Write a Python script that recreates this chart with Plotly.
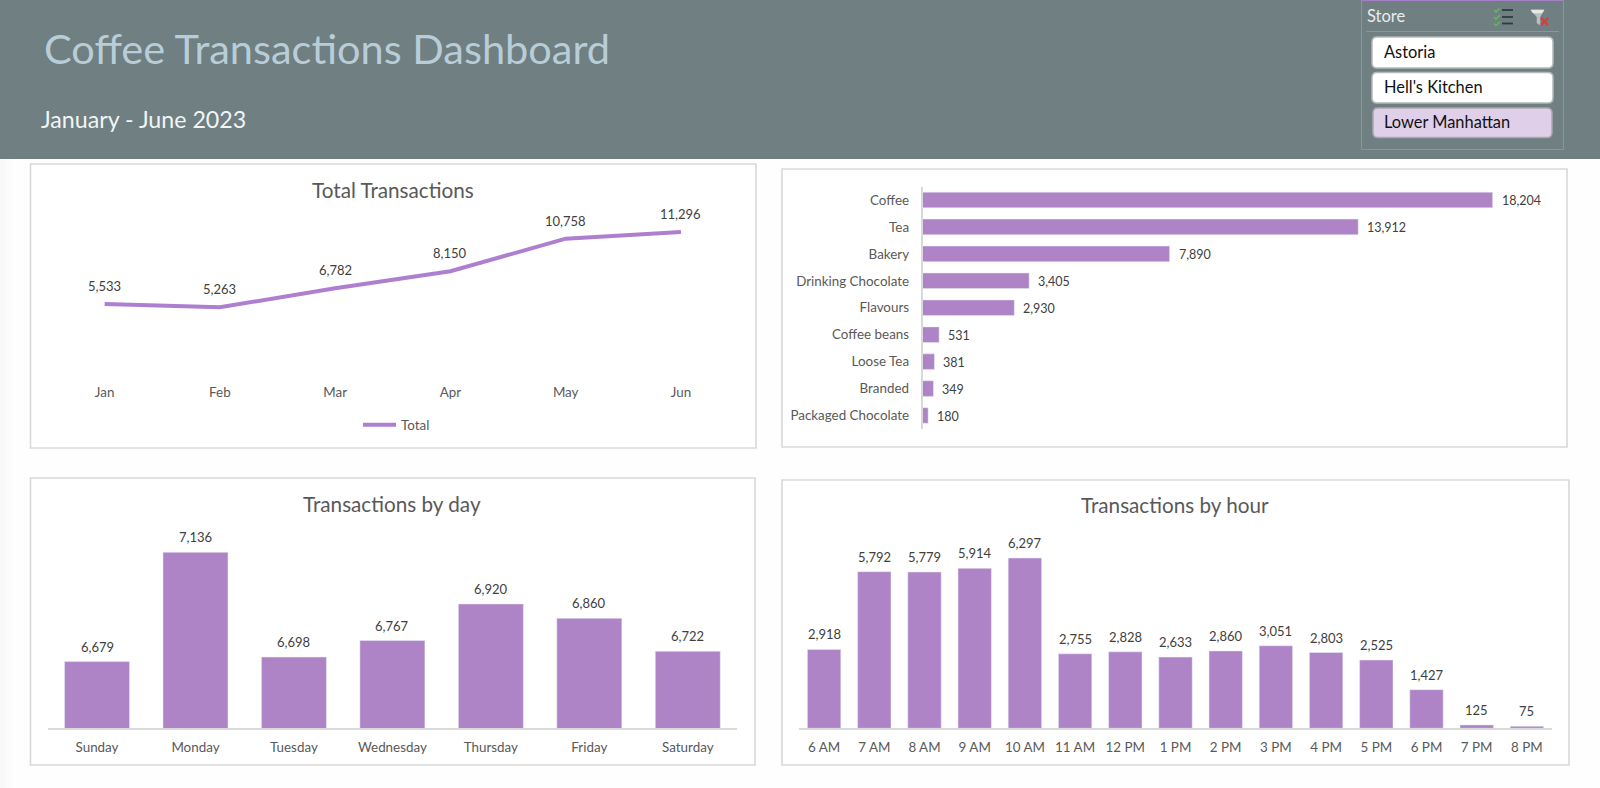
import plotly.graph_objects as go

W, H = 1600, 788
FONT = "Lato"
PURPLE = "#AE84C6"
LINE_PURPLE = "#AE7FCF"
AXIS = "#D9D9D9"
LABEL = "#404040"
TITLE = "#595959"

months = ["Jan", "Feb", "Mar", "Apr", "May", "Jun"]
month_totals = [5533, 5263, 6782, 8150, 10758, 11296]

products = ["Coffee", "Tea", "Bakery", "Drinking Chocolate", "Flavours",
            "Coffee beans", "Loose Tea", "Branded", "Packaged Chocolate"]
product_totals = [18204, 13912, 7890, 3405, 2930, 531, 381, 349, 180]

days = ["Sunday", "Monday", "Tuesday", "Wednesday", "Thursday", "Friday", "Saturday"]
day_totals = [6679, 7136, 6698, 6767, 6920, 6860, 6722]

hours = ["6 AM", "7 AM", "8 AM", "9 AM", "10 AM", "11 AM", "12 PM", "1 PM",
         "2 PM", "3 PM", "4 PM", "5 PM", "6 PM", "7 PM", "8 PM"]
hour_totals = [2918, 5792, 5779, 5914, 6297, 2755, 2828, 2633, 2860, 3051,
               2803, 2525, 1427, 125, 75]

stores = ["Astoria", "Hell's Kitchen", "Lower Manhattan"]


def px(v):
    return v / W


def py(v):
    return 1 - v / H


def rect(x0, y0, x1, y1, fill=None, line=None, lw=1, layer="below"):
    return dict(type="rect", xref="paper", yref="paper", x0=px(x0), x1=px(x1),
                y0=py(y0), y1=py(y1), fillcolor=fill or "rgba(0,0,0,0)",
                line=dict(color=line or "rgba(0,0,0,0)", width=lw if line else 0),
                layer=layer)


def rrect(x0, y0, x1, y1, r, fill, line, lw=1.5):
    X = lambda v: f"{px(v):.5f}"
    Y = lambda v: f"{py(v):.5f}"
    p = (f"M{X(x0+r)},{Y(y0)} L{X(x1-r)},{Y(y0)} Q{X(x1)},{Y(y0)} {X(x1)},{Y(y0+r)} "
         f"L{X(x1)},{Y(y1-r)} Q{X(x1)},{Y(y1)} {X(x1-r)},{Y(y1)} L{X(x0+r)},{Y(y1)} "
         f"Q{X(x0)},{Y(y1)} {X(x0)},{Y(y1-r)} L{X(x0)},{Y(y0+r)} Q{X(x0)},{Y(y0)} {X(x0+r)},{Y(y0)} Z")
    return dict(type="path", xref="paper", yref="paper", path=p, fillcolor=fill,
                line=dict(color=line, width=lw), layer="below")


def poly(points, color, width=0, fill=None):
    p = "M" + " L".join(f"{px(a):.5f},{py(b):.5f}" for a, b in points)
    if fill:
        p += " Z"
    return dict(type="path", xref="paper", yref="paper", path=p,
                fillcolor=fill or "rgba(0,0,0,0)",
                line=dict(color=color, width=width), layer="above")


def text(x, y, s, size, color, anchor="left"):
    return dict(xref="paper", yref="paper", x=px(x), y=py(y), text=s, showarrow=False,
                xanchor=anchor, yanchor="middle", align=anchor,
                font=dict(family=FONT, size=size, color=color))


def value_labels(xs, ys, xref, yref, shift, horizontal=False, size=13):
    out = []
    for a, b in zip(xs, ys):
        item = dict(xref=xref, yref=yref, x=a, y=b, text=f"{(a if horizontal else b):,}",
                    showarrow=False, font=dict(family=FONT, size=size, color=LABEL))
        if horizontal:
            item.update(xanchor="left", yanchor="middle", xshift=shift, yshift=-1)
        else:
            item.update(xanchor="center", yanchor="middle", yshift=shift)
        out.append(item)
    return out


shapes = [
    rect(0, 159, 6, H, fill="#F9F9F9"),
    rect(6, 159, 12, H, fill="#FCFCFC"),
    rect(0, 0, W, 159, fill="#6F7F82"),
    rect(30.5, 164, 756, 448, fill="white", line=AXIS, lw=1.6),
    rect(782, 169, 1567, 447, fill="white", line=AXIS, lw=1.6),
    rect(30.5, 478, 755, 765, fill="white", line=AXIS, lw=1.6),
    rect(782, 480, 1569, 765, fill="white", line=AXIS, lw=1.6),
    # slicer
    rect(1361.5, 0.5, 1563.5, 149.5, line="#A67FC7", lw=1),
    rect(1366, 31, 1559, 32, fill="#A67FC7"),
    rrect(1372, 37, 1553, 68, 5, "white", "#B5B9BA"),
    rrect(1372, 72.5, 1553, 103, 5, "white", "#B5B9BA"),
    rrect(1373, 108, 1552, 137.5, 5, "#E0CFE9", "#A9A9B0"),
    # multi-select icon
    poly([(1502, 10), (1513, 10)], "#2F3B3D", 1.8),
    poly([(1502, 17), (1513, 17)], "#2F3B3D", 1.8),
    poly([(1502, 23.5), (1513, 23.5)], "#2F3B3D", 1.8),
    poly([(1494, 10), (1496, 12), (1500, 8)], "#66B35F", 1.6),
    poly([(1494, 17), (1496, 19), (1500, 15)], "#66B35F", 1.6),
    poly([(1494, 23.5), (1496, 25.5), (1500, 21.5)], "#66B35F", 1.6),
    # clear-filter icon
    poly([(1531, 10), (1544, 10), (1540, 17), (1540, 25), (1537, 23), (1537, 17)],
         "#B8C0C1", 0.5, fill="#B8C0C1"),
    poly([(1531, 10), (1544, 10), (1542, 13), (1533, 13)], "#E6E9E9", 0.5, fill="#E6E9E9"),
    poly([(1541, 18), (1548, 25)], "#D0403C", 2.2),
    poly([(1548, 18), (1541, 25)], "#D0403C", 2.2),
]

annotations = [
    text(42, 48, "Coffee Transactions Dashboard", 41.5, "#B9CDD8"),
    text(38.5, 119, "January - June 2023", 23.2, "#F2F5F6"),
    text(1365, 15.5, "Store", 16.5, "#E8ECEC"),
    text(1382, 52, stores[0], 16.4, "#111111"),
    text(1382, 87, stores[1], 16.4, "#111111"),
    text(1382, 122, stores[2], 16.4, "#111111"),
    text(393, 189.5, "Total Transactions", 20.7, TITLE, "center"),
    text(392, 504, "Transactions by day", 20.7, TITLE, "center"),
    text(1175, 505, "Transactions by hour", 20.7, TITLE, "center"),
]
annotations += value_labels(months, month_totals, "x", "y", 18)
annotations += value_labels(product_totals, products, "x2", "y2", 7, horizontal=True, size=12.5)
annotations += value_labels(days, day_totals, "x3", "y3", 15)
annotations += value_labels(hours, hour_totals, "x4", "y4", 15)

fig = go.Figure()
fig.add_trace(go.Scatter(x=months, y=month_totals, mode="lines", name="Total",
                         line=dict(color=LINE_PURPLE, width=4), xaxis="x", yaxis="y",
                         showlegend=True, hoverinfo="x+y"))
fig.add_trace(go.Bar(x=product_totals, y=products, orientation="h", marker_color=PURPLE,
                     width=0.58, xaxis="x2", yaxis="y2", showlegend=False))
fig.add_trace(go.Bar(x=days, y=day_totals, marker_color=PURPLE, width=0.66, xaxis="x3",
                     yaxis="y3", showlegend=False))
fig.add_trace(go.Bar(x=hours, y=hour_totals, marker_color=PURPLE, width=0.665, xaxis="x4",
                     yaxis="y4", showlegend=False))

tick = dict(family=FONT, size=13.4, color=TITLE)
fig.update_layout(
    width=W, height=H, margin=dict(l=0, r=0, t=0, b=0),
    paper_bgcolor="#FEFEFE", plot_bgcolor="rgba(0,0,0,0)",
    shapes=shapes, annotations=annotations,
    showlegend=True,
    legend=dict(x=px(358), y=py(425), xanchor="left", yanchor="middle", itemwidth=33,
                bgcolor="rgba(0,0,0,0)", font=dict(family=FONT, size=13.4, color=TITLE)),
    # line chart
    xaxis=dict(domain=[px(47), px(738.6)], range=[-0.5, 5.5], showgrid=False, zeroline=False,
               showline=False, ticks="", tickfont=tick, ticklabelstandoff=10),
    yaxis=dict(domain=[py(373), py(223)], range=[0, 12012], visible=False),
    # product bars
    xaxis2=dict(domain=[px(922.5), px(1548.9)], range=[0, 20000], visible=False,
                anchor="y2"),
    yaxis2=dict(domain=[py(429), py(186.5)], autorange="reversed", anchor="x2",
                showgrid=False, zeroline=False, showline=True, linecolor=AXIS, linewidth=1.5,
                ticks="", tickfont=tick, ticklabelstandoff=9),
    # day bars
    xaxis3=dict(domain=[px(47.8), px(737)], anchor="y3", showgrid=False, zeroline=False,
                showline=True, linecolor=AXIS, linewidth=1.5, ticks="", tickfont=tick,
                ticklabelstandoff=6),
    yaxis3=dict(domain=[py(728.3), py(537)], range=[6400, 7200], visible=False, anchor="x3"),
    # hour bars
    xaxis4=dict(domain=[px(799), px(1552)], anchor="y4", showgrid=False, zeroline=False,
                showline=True, linecolor=AXIS, linewidth=1.5, ticks="", tickfont=tick,
                ticklabelstandoff=6),
    yaxis4=dict(domain=[py(728.3), py(539)], range=[0, 7000], visible=False, anchor="x4"),
)

fig.write_html("out.html", config=dict(displayModeBar=False),
               post_script="document.body.style.margin='0';document.documentElement.style.overflow='hidden';")
